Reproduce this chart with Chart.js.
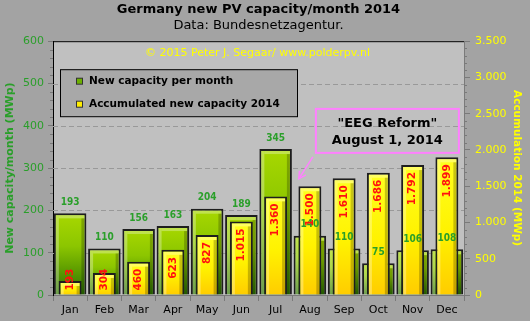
<!DOCTYPE html>
<html>
<head>
<meta charset="utf-8">
<script src="https://cdn.jsdelivr.net/npm/chart.js@4/dist/chart.umd.min.js"></script>
<style>
  html, body { margin: 0; padding: 0; background: #a3a3a3; }
  #wrap { width: 530px; height: 321px; }
</style>
</head>
<body>
<div id="wrap"><canvas id="pvChart" width="530" height="321"></canvas></div>
<script>
// values
const months = ['Jan', 'Feb', 'Mar', 'Apr', 'May', 'Jun', 'Jul', 'Aug', 'Sep', 'Oct', 'Nov', 'Dec'];
const newCapacity = [193, 110, 156, 163, 204, 189, 345, 140, 110, 75, 106, 108];
const accumulated = [193, 304, 460, 623, 827, 1015, 1360, 1500, 1610, 1686, 1792, 1899];
const leftMax = 600;
const rightMax = 3500;

const titleText = 'Germany new PV capacity/month 2014';
const subtitleText = 'Data: Bundesnetzagentur.';
const creditText = '\u00a9 2015 Peter J. Segaar/ www.polderpv.nl';
const noteLines = ['"EEG Reform"', 'August 1, 2014'];

const FONT = "'DejaVu Sans', Verdana, sans-serif";
const GREEN_TXT = '#2a9f2a';
const YELLOW_TXT = '#ffff00';
const PINK = '#ff80ff';

Chart.defaults.font.family = FONT;

function dots(v) {
    return String(v).replace(/\B(?=(\d{3})+(?!\d))/g, '.');
}

// vertical gradient running from the top of each bar down to its base
function barGradient(c, stops, fallback) {
    const chart = c.chart;
    if (!chart.chartArea || c.raw === undefined) return fallback;
    const scale = chart.scales[c.dataset.yAxisID];
    const top = scale.getPixelForValue(c.raw), base = scale.getPixelForValue(0);
    const g = chart.ctx.createLinearGradient(0, top, 0, base);
    stops.forEach(s => g.addColorStop(s[0], s[1]));
    return g;
}

// plot background, dashed grid, top border, minor ticks
const plotBg = {
    id: 'plotBg',
    beforeDraw(chart) {
        const { ctx, chartArea: a } = chart;
        ctx.save();
        ctx.fillStyle = '#c0c0c0';
        ctx.fillRect(a.left, a.top, a.right - a.left, a.bottom - a.top);
        ctx.restore();
    },
    beforeDatasetsDraw(chart) {
        const { ctx, chartArea: a } = chart;
        const y = chart.scales.y;
        ctx.save();
        ctx.strokeStyle = '#999';
        ctx.lineWidth = 1;
        ctx.setLineDash([5, 3]);
        for (let v = 100; v < leftMax; v += 100) {
            const p = Math.round(y.getPixelForValue(v)) + 0.5;
            ctx.beginPath(); ctx.moveTo(a.left, p); ctx.lineTo(a.right, p); ctx.stroke();
        }
        ctx.restore();
    },
    afterDraw(chart) {
        const { ctx, chartArea: a } = chart;
        ctx.save();
        ctx.strokeStyle = '#000';
        ctx.lineWidth = 1;
        ctx.beginPath();
        ctx.moveTo(a.left, a.top + 0.5);
        ctx.lineTo(a.right, a.top + 0.5);
        ctx.stroke();

        ctx.strokeStyle = '#7a7a7a';
        const y = chart.scales.y, y1 = chart.scales.y1;
        for (let v = 0; v <= leftMax; v += 20) {
            if (v % 100 === 0) continue;
            const p = Math.round(y.getPixelForValue(v)) + 0.5;
            ctx.beginPath(); ctx.moveTo(a.left - 3, p); ctx.lineTo(a.left, p); ctx.stroke();
        }
        for (let v = 0; v <= rightMax; v += 100) {
            if (v % 500 === 0) continue;
            const p = Math.round(y1.getPixelForValue(v)) + 0.5;
            ctx.beginPath(); ctx.moveTo(a.right, p); ctx.lineTo(a.right + 3, p); ctx.stroke();
        }
        ctx.restore();
    }
};

// bevel look on each bar
const bevel = {
    id: 'bevel',
    afterDatasetDraw(chart, args) {
        const { ctx } = chart;
        ctx.save();
        args.meta.data.forEach(bar => {
            const { x, y, base, width } = bar.getProps(['x', 'y', 'base', 'width'], true);
            const l = x - width / 2 + 2, r = x + width / 2 - 2, t = y + 2, b = base;
            if (b - t < 4) return;
            ctx.fillStyle = 'rgba(255,255,255,0.3)';
            ctx.fillRect(l, t, 3, b - t);
            ctx.fillRect(l + 3, t, r - l - 3, 3);
            ctx.fillStyle = 'rgba(0,0,0,0.22)';
            ctx.fillRect(r - 3, t + 3, 3, b - t - 3);
        });
        ctx.restore();
    }
};

// value labels
const valueLabels = {
    id: 'valueLabels',
    afterDatasetsDraw(chart) {
        const { ctx } = chart;
        const green = chart.getDatasetMeta(0);
        const yellow = chart.getDatasetMeta(1);
        ctx.save();
        ctx.font = "bold 10px 'DejaVu Sans Condensed', 'DejaVu Sans', sans-serif";
        ctx.fillStyle = GREEN_TXT;
        ctx.textAlign = 'center';
        ctx.textBaseline = 'middle';
        green.data.forEach((bar, i) => {
            ctx.fillText(String(newCapacity[i]), bar.x, bar.y - 11);
        });

        ctx.font = 'bold 10.5px ' + FONT;
        ctx.fillStyle = '#ff1010';
        ctx.textAlign = 'right';
        yellow.data.forEach((bar, i) => {
            const txt = dots(accumulated[i]);
            const w = ctx.measureText(txt).width;
            const top = Math.min(bar.y + 7, bar.base - 4 - w);
            ctx.save();
            ctx.translate(bar.x, top);
            ctx.rotate(-Math.PI / 2);
            ctx.fillText(txt, 0, 0);
            ctx.restore();
        });
        ctx.restore();
    }
};

// legend box, credit line and EEG note
const extras = {
    id: 'extras',
    afterDraw(chart) {
        const { ctx, chartArea: a } = chart;
        const xs = chart.scales.x, ys = chart.scales.y;
        ctx.save();

        ctx.font = '11px ' + FONT;
        ctx.fillStyle = YELLOW_TXT;
        ctx.textAlign = 'center';
        ctx.textBaseline = 'middle';
        ctx.fillText(creditText, (a.left + a.right) / 2 - 1, a.top + 12);

        // legend
        const lx = a.left + 7, ly = a.top + 28, lw = 237, lh = 47;
        ctx.fillStyle = '#a8a8a8';
        ctx.fillRect(lx, ly, lw, lh);
        ctx.strokeStyle = '#000';
        ctx.lineWidth = 1;
        ctx.strokeRect(lx + 0.5, ly + 0.5, lw, lh);
        const swatch = ['#6cb000', '#ffee00'];
        ctx.font = 'bold 10.5px ' + FONT;
        ctx.textAlign = 'left';
        chart.data.datasets.forEach((ds, i) => {
            const cy = ly + 12 + i * 23;
            ctx.fillStyle = '#333';
            ctx.fillRect(lx + 16, cy - 3.5, 7, 7);
            ctx.fillStyle = swatch[i];
            ctx.fillRect(lx + 17, cy - 2.5, 5, 5);
            ctx.fillStyle = '#000';
            ctx.fillText(ds.label, lx + 29, cy + 0.5);
        });

        // EEG reform note, anchored on the Aug category
        const bx1 = xs.getPixelForValue(7) + 6, bx2 = xs.getPixelForValue(11) + 12;
        const by1 = ys.getPixelForValue(440), by2 = ys.getPixelForValue(336);
        ctx.strokeStyle = PINK;
        ctx.lineWidth = 2;
        ctx.strokeRect(bx1, by1, bx2 - bx1, by2 - by1);
        ctx.fillStyle = '#000';
        ctx.font = 'bold 13px ' + FONT;
        ctx.textAlign = 'center';
        const cx = (bx1 + bx2) / 2;
        ctx.fillText(noteLines[0], cx, by1 + 15);
        ctx.fillText(noteLines[1], cx, by1 + 32);

        // arrow
        const sx = bx1 - 3, sy = by2 + 4;
        const tx = xs.getPixelForValue(7) - 11, ty = ys.getPixelForValue(275);
        ctx.lineWidth = 1.5;
        ctx.beginPath();
        ctx.moveTo(sx, sy);
        ctx.lineTo(tx, ty);
        ctx.stroke();
        const ang = Math.atan2(ty - sy, tx - sx);
        ctx.beginPath();
        ctx.moveTo(tx - 8 * Math.cos(ang - 0.5), ty - 8 * Math.sin(ang - 0.5));
        ctx.lineTo(tx, ty);
        ctx.lineTo(tx - 8 * Math.cos(ang + 0.5), ty - 8 * Math.sin(ang + 0.5));
        ctx.stroke();
        ctx.restore();
    }
};

new Chart(document.getElementById('pvChart'), {
    type: 'bar',
    data: {
        labels: months,
        datasets: [{
            label: 'New capacity per month',
            data: newCapacity,
            yAxisID: 'y',
            order: 2,
            grouped: false,
            barPercentage: 0.95,
            categoryPercentage: 1,
            borderColor: '#1e1e1e',
            borderWidth: 2,
            backgroundColor: c => barGradient(c, [[0, '#a8d800'], [0.4, '#8cc600'], [1, '#2c7200']], '#7cc000')
        }, {
            label: 'Accumulated new capacity 2014',
            data: accumulated,
            yAxisID: 'y1',
            order: 1,
            grouped: false,
            barPercentage: 0.67,
            categoryPercentage: 1,
            borderColor: '#1e1e1e',
            borderWidth: 2,
            backgroundColor: c => barGradient(c, [[0, '#ffff20'], [0.55, '#fff200'], [1, '#ffcc00']], '#ffee00')
        }]
    },
    options: {
        responsive: false,
        animation: false,
        devicePixelRatio: 1,
        layout: { padding: 0 },
        plugins: {
            legend: { display: false },
            tooltip: { enabled: false },
            title: {
                display: true,
                text: titleText,
                color: '#000',
                fullSize: false,
                font: { size: 13, weight: 'bold' },
                padding: { top: 2, bottom: 0 }
            },
            subtitle: {
                display: true,
                text: subtitleText,
                color: '#000',
                fullSize: false,
                font: { size: 13 },
                padding: { top: 0, bottom: 8 }
            }
        },
        scales: {
            x: {
                grid: { drawOnChartArea: false, offset: true, tickLength: 6, color: '#7a7a7a' },
                border: { display: true, color: '#7a7a7a' },
                ticks: { color: '#000', font: { size: 11 }, padding: 3 },
                afterFit: s => { s.height = 26; }
            },
            y: {
                position: 'left',
                min: 0,
                max: leftMax,
                ticks: { stepSize: 100, color: GREEN_TXT, font: { size: 11 }, padding: 4 },
                grid: { drawOnChartArea: false, tickColor: '#7a7a7a', tickLength: 5 },
                border: { color: '#000' },
                title: {
                    display: true,
                    text: 'New capacity/month (MWp)',
                    color: GREEN_TXT,
                    font: { size: 11, weight: 'bold' },
                    padding: { top: 4, bottom: 0 }
                },
                afterFit: s => { s.width = 53; }
            },
            y1: {
                position: 'right',
                min: 0,
                max: rightMax,
                ticks: { stepSize: 500, color: YELLOW_TXT, font: { size: 11 }, padding: 5, callback: v => dots(v) },
                grid: { drawOnChartArea: false, tickColor: '#7a7a7a', tickLength: 6 },
                border: { color: '#7a7a7a' },
                title: {
                    display: true,
                    text: 'Accumulation 2014 (MWp)',
                    color: YELLOW_TXT,
                    font: { size: 10.5, weight: 'bold' },
                    padding: { top: 7, bottom: 0 }
                },
                afterFit: s => { s.width = 66; }
            }
        }
    },
    plugins: [plotBg, bevel, valueLabels, extras]
});
</script>
</body>
</html>
